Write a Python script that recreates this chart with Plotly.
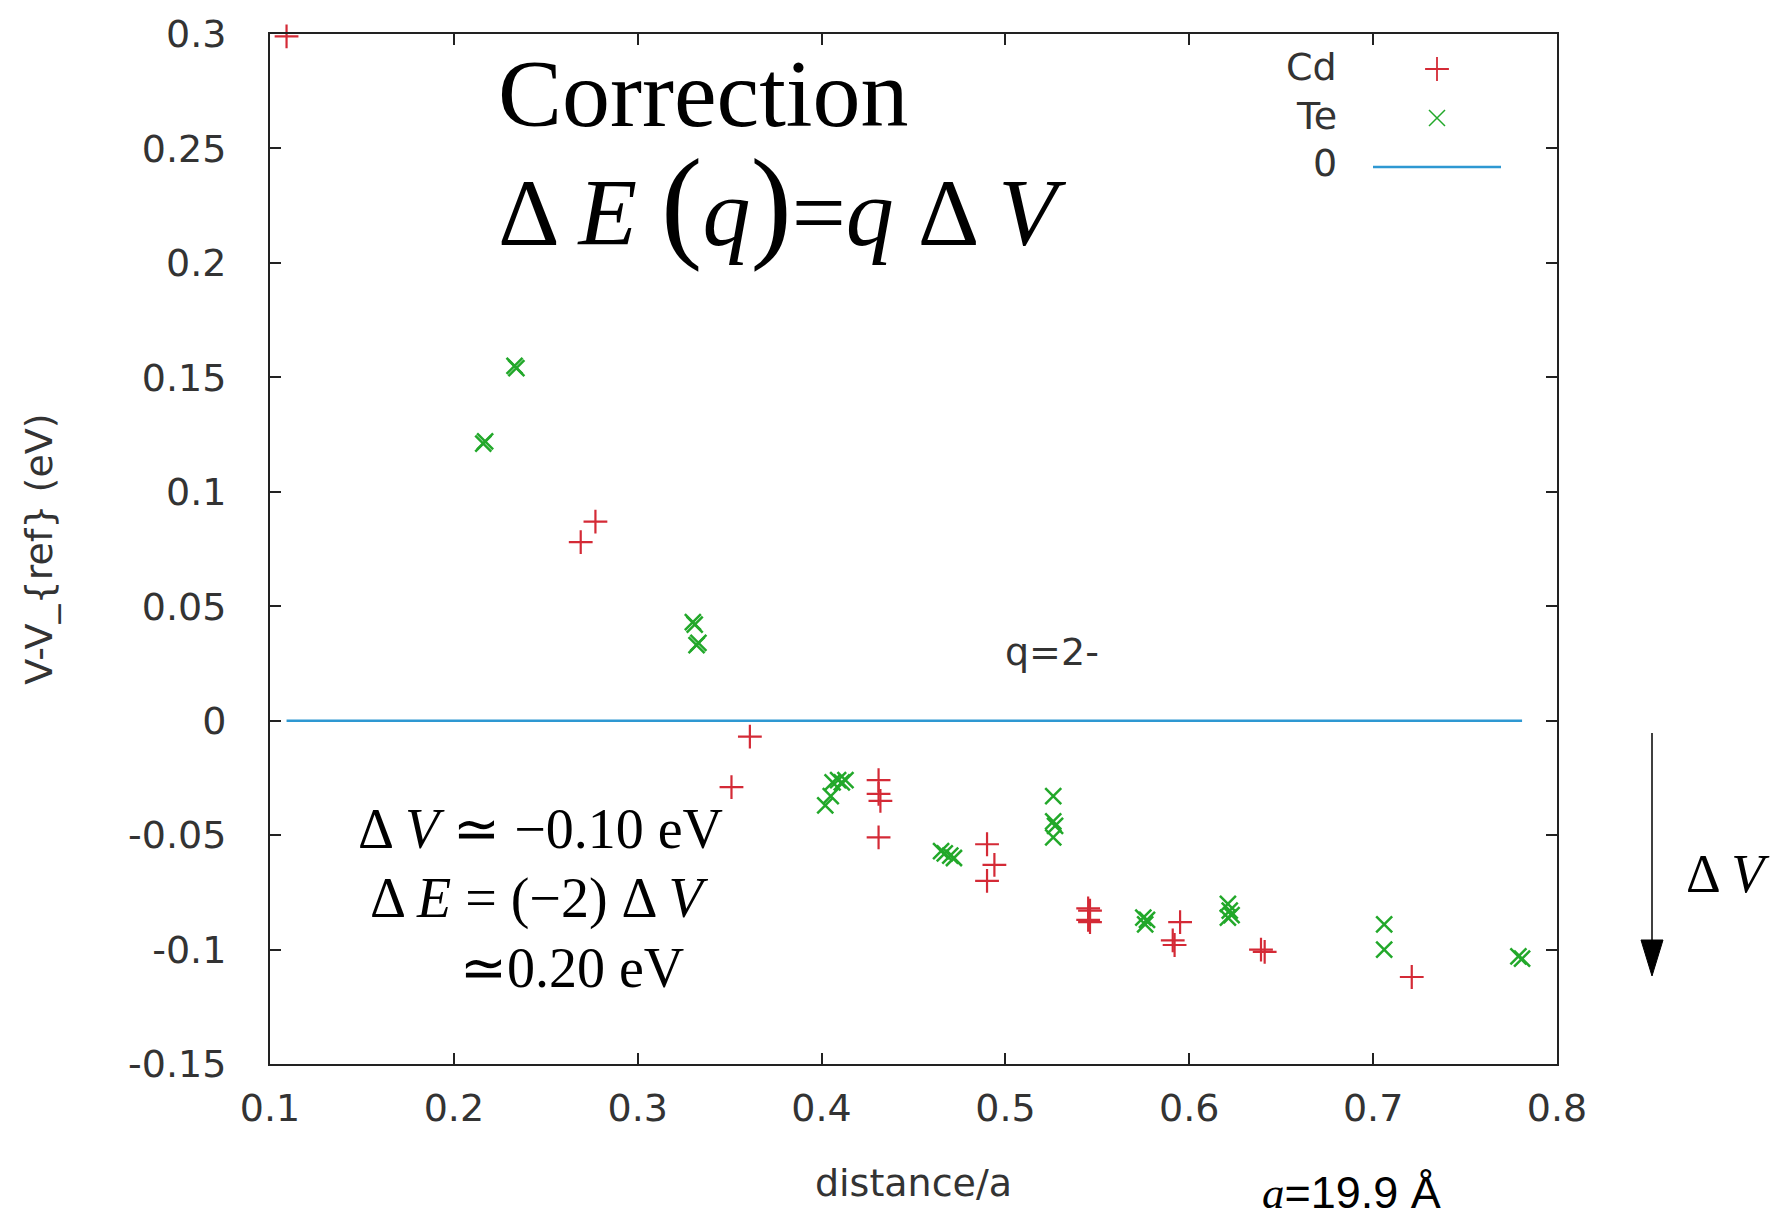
import plotly.graph_objects as go

# ---------------- data ----------------
cd_x = [0.109, 0.269, 0.277, 0.351, 0.361, 0.431, 0.431, 0.432, 0.431, 0.490, 0.494, 0.490,
        0.545, 0.546, 0.545, 0.546, 0.595, 0.591, 0.592, 0.639, 0.641, 0.721]
cd_y = [0.299, 0.078, 0.087, -0.029, -0.007, -0.026, -0.032, -0.035, -0.051, -0.054, -0.063, -0.070,
        -0.082, -0.083, -0.087, -0.088, -0.088, -0.096, -0.098, -0.100, -0.101, -0.112]

te_x = [0.216, 0.217, 0.233, 0.234, 0.330, 0.331, 0.332, 0.333, 0.402, 0.405, 0.406, 0.409,
        0.411, 0.413, 0.465, 0.467, 0.470, 0.472, 0.526, 0.526, 0.527, 0.526, 0.575, 0.577,
        0.576, 0.621, 0.622, 0.623, 0.621, 0.706, 0.706, 0.779, 0.781]
te_y = [0.121, 0.122, 0.155, 0.154, 0.043, 0.042, 0.033, 0.034, -0.037, -0.033, -0.027, -0.026,
        -0.027, -0.026, -0.057, -0.058, -0.059, -0.060, -0.033, -0.044, -0.046, -0.051, -0.086, -0.087,
        -0.089, -0.080, -0.083, -0.085, -0.086, -0.089, -0.100, -0.103, -0.104]

zero_x = [0.109, 0.781]
zero_y = [0.0, 0.0]

x_ticks = [0.1, 0.2, 0.3, 0.4, 0.5, 0.6, 0.7, 0.8]
x_ticktext = ["0.1", "0.2", "0.3", "0.4", "0.5", "0.6", "0.7", "0.8"]
y_ticks = [-0.15, -0.1, -0.05, 0, 0.05, 0.1, 0.15, 0.2, 0.25, 0.3]
y_ticktext = ["-0.15", "-0.1", "-0.05", "0", "0.05", "0.1", "0.15", "0.2", "0.25", "0.3"]

# ---------------- layout helpers ----------------
W, H = 1781, 1222
L, R, T, B = 270, 1557, 34, 1064


def px(X):
    return (X - L) / (R - L)


def py(Y):
    return (B - Y) / (B - T)


RED = "#d42a36"
GREEN = "#22a82a"
BLUE = "#2e98d2"
TXT = "#333333"
SANS = "DejaVu Sans"
SERIF = "Liberation Serif"

fig = go.Figure()

fig.add_trace(go.Scatter(
    x=zero_x, y=zero_y, mode="lines", name="0",
    line=dict(color=BLUE, width=2.5), showlegend=False))

fig.add_trace(go.Scatter(
    x=cd_x, y=cd_y, mode="markers", name="Cd", cliponaxis=False,
    marker=dict(symbol="cross-thin", size=17, color=RED,
                line=dict(color=RED, width=2.2)), showlegend=False))

fig.add_trace(go.Scatter(
    x=te_x, y=te_y, mode="markers", name="Te", cliponaxis=False,
    marker=dict(symbol="x-thin", size=16, color=GREEN,
                line=dict(color=GREEN, width=2.5)), showlegend=False))

# gnuplot-style key (text left, symbol right) on an overlay axis
fig.add_trace(go.Scatter(
    x=[px(1437)], y=[py(69)], xaxis="x2", yaxis="y2", mode="markers",
    marker=dict(symbol="cross-thin", size=17, color=RED, line=dict(color=RED, width=1.8)),
    showlegend=False, hoverinfo="skip"))
fig.add_trace(go.Scatter(
    x=[px(1437)], y=[py(118)], xaxis="x2", yaxis="y2", mode="markers",
    marker=dict(symbol="x-thin", size=16, color=GREEN, line=dict(color=GREEN, width=1.5)),
    showlegend=False, hoverinfo="skip"))

annotations = []


def txt(text, X, Y, size, family=SANS, xanchor="left", color=TXT):
    annotations.append(dict(
        text=text, x=px(X), y=py(Y), xref="paper", yref="paper",
        xanchor=xanchor, yanchor="middle", showarrow=False,
        font=dict(size=size, family=family, color=color)))


# key labels
txt("Cd", 1339, 67, 38, xanchor="right")
txt("Te", 1339, 116, 38, xanchor="right")
txt("0", 1339, 163, 38, xanchor="right")

# big titles
txt("Correction", 496, 93, 96, family=SERIF, color="#000")
txt("Δ <i>E</i> <span style='font-size:124px'>(</span><i>q</i><span style='font-size:124px'>)</span>=<i>q</i> Δ <i>V</i>",
    496, 203, 96, family=SERIF, color="#000")

# q=2-
txt("q=2-", 1052, 652, 38, xanchor="center")

# Delta V block
txt("Δ <i>V</i> ≃ −0.10 eV", 356, 829, 56, family=SERIF, color="#000")
txt("Δ <i>E</i> = (−2) Δ <i>V</i>", 368, 898, 56, family=SERIF, color="#000")
txt("≃0.20 eV", 458, 968, 56, family=SERIF, color="#000")

# Delta V by arrow
txt("Δ <i>V</i>", 1684, 874, 54, family=SERIF, color="#000")

# a = 19.9 Å
txt("<span style='font-family:Liberation Serif'><i>a</i></span>=19.9 Å", 1260, 1192, 45,
    family="Liberation Sans", color="#000")

fig.update_layout(
    width=W, height=H,
    margin=dict(l=L, r=W - R, t=T, b=H - B, autoexpand=False),
    paper_bgcolor="white", plot_bgcolor="white",
    showlegend=False,
    font=dict(family=SANS, size=38, color=TXT),
    xaxis=dict(
        range=[0.1, 0.8], tickvals=x_ticks, ticktext=x_ticktext,
        showgrid=False, zeroline=False,
        showline=True, linecolor="#222", linewidth=2, mirror="ticks",
        ticks="inside", ticklen=11, tickwidth=1.6, tickcolor="#222",
        tickfont=dict(family=SANS, size=38, color=TXT),
        ticklabelstandoff=9,
        title=dict(text="distance/a", font=dict(family=SANS, size=38, color=TXT), standoff=41),
    ),
    yaxis=dict(
        range=[-0.15, 0.3], tickvals=y_ticks, ticktext=y_ticktext,
        showgrid=False, zeroline=False,
        showline=True, linecolor="#222", linewidth=2, mirror="ticks",
        ticks="inside", ticklen=11, tickwidth=1.6, tickcolor="#222",
        tickfont=dict(family=SANS, size=38, color=TXT),
        ticklabelstandoff=34,
        title=dict(text="V-V_{ref} (eV)", font=dict(family=SANS, size=38, color=TXT), standoff=64),
    ),
    xaxis2=dict(range=[0, 1], overlaying="x", visible=False, fixedrange=True),
    yaxis2=dict(range=[0, 1], overlaying="y", visible=False, fixedrange=True),
    annotations=annotations,
    shapes=[
        dict(type="line", xref="paper", yref="paper",
             x0=px(1373), x1=px(1501), y0=py(167), y1=py(167),
             line=dict(color=BLUE, width=2.5)),
        dict(type="line", xref="paper", yref="paper",
             x0=px(1652), x1=px(1652), y0=py(733), y1=py(945),
             line=dict(color="#000", width=1.5)),
        dict(type="path", xref="paper", yref="paper",
             path=f"M {px(1641)},{py(940)} L {px(1663)},{py(940)} L {px(1652)},{py(976)} Z",
             fillcolor="#000", line=dict(color="#000", width=1)),
    ],
)

fig.write_html("out.html",
               config={"displayModeBar": False},
               post_script="document.body.style.margin='0';document.body.style.overflow='hidden';")
